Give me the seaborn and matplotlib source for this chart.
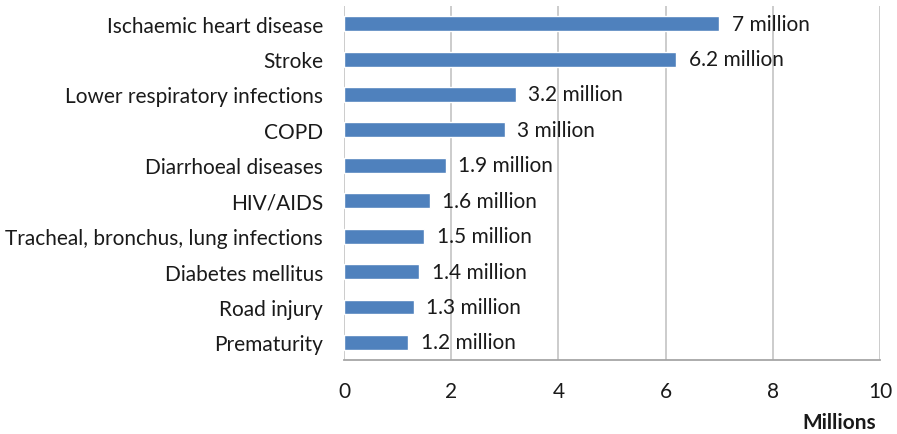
import matplotlib
matplotlib.use("Agg")
import matplotlib.pyplot as plt
import seaborn as sns
import pandas as pd

causes = ["Ischaemic heart disease", "Stroke", "Lower respiratory infections", "COPD",
          "Diarrhoeal diseases", "HIV/AIDS", "Tracheal, bronchus, lung infections",
          "Diabetes mellitus", "Road injury", "Prematurity"]
deaths = [7.0, 6.2, 3.2, 3.0, 1.9, 1.6, 1.5, 1.4, 1.3, 1.2]
labels = ["7 million", "6.2 million", "3.2 million", "3 million", "1.9 million",
          "1.6 million", "1.5 million", "1.4 million", "1.3 million", "1.2 million"]
xticks = [0, 2, 4, 6, 8, 10]

sns.set_style("white")
plt.rcParams['font.family'] = ['Lato', 'DejaVu Sans']

df = pd.DataFrame({"cause": causes, "deaths": deaths})

fig = plt.figure(figsize=(8.97, 4.35), dpi=100)
ax = fig.add_axes([0.3835, 0.170, 0.5975, 0.814])
sns.barplot(data=df, y="cause", x="deaths", orient="h", color="#4F81BD",
            saturation=1, width=0.42, ax=ax)

ax.set_xlim(0, 10)
ax.set_ylim(9.5, -0.5)
ax.set_xticks(xticks)
ax.set_xticklabels([str(t) for t in xticks], fontsize=15, color="#1a1a1a")
ax.tick_params(axis="x", length=5, color="#A6A6A6", width=1.2, pad=10)
ax.tick_params(axis="y", length=0, labelsize=15, labelcolor="#1a1a1a", pad=15)
ax.grid(axis="x", color="#C8C8C8", linewidth=1.3)
ax.set_axisbelow(True)
for s in ["top", "right", "left"]:
    ax.spines[s].set_visible(False)
ax.spines["bottom"].set_color("#A6A6A6")
ax.spines["bottom"].set_linewidth(1.3)
ax.set_xlabel("")
ax.set_ylabel("")

for i, (v, lab) in enumerate(zip(deaths, labels)):
    ax.annotate(lab, xy=(v, i), xytext=(9, 0), textcoords="offset points",
                ha="left", va="center", fontsize=15, color="#1a1a1a")

fig.text(0.935, 0.028, "Millions", ha="center", va="center", fontsize=15,
         fontweight="bold", color="#1a1a1a")

fig.savefig("out.png", dpi=100)
